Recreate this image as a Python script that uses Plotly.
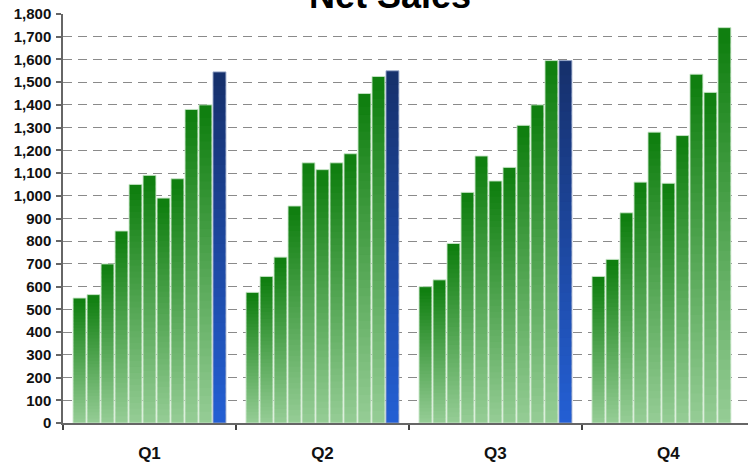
import plotly.graph_objects as go

categories = ["Q1", "Q2", "Q3", "Q4"]
# 11 series (bars per quarter); last series is highlighted in blue (no Q4 value)
series = [
    [550, 575, 600, 645],
    [565, 645, 630, 720],
    [700, 730, 790, 925],
    [845, 955, 1015, 1060],
    [1050, 1145, 1175, 1280],
    [1090, 1115, 1065, 1055],
    [990, 1145, 1125, 1265],
    [1075, 1185, 1310, 1535],
    [1380, 1450, 1400, 1455],
    [1400, 1525, 1595, 1740],
    [1545, 1550, 1595, None],
]
y_ticks = list(range(0, 1801, 100))

N = 40  # gradient slices per bar


def lerp(c1, c2, t):
    return "rgb(%d,%d,%d)" % tuple(round(a + (b - a) * t) for a, b in zip(c1, c2))


green_top, green_bot = (14, 126, 14), (152, 206, 152)
blue_top, blue_bot = (22, 48, 108), (36, 96, 214)

fig = go.Figure()
for j, vals in enumerate(series):
    top, bot = (blue_top, blue_bot) if j == len(series) - 1 else (green_top, green_bot)
    for k in range(N):
        t = (k + 0.5) / N  # 0 bottom -> 1 top
        bases = [None if v is None else max(0.0, v * (k - 0.6) / N) for v in vals]
        tops = [None if v is None else v * (k + 1) / N for v in vals]
        fig.add_trace(go.Bar(
            x=categories,
            y=[None if b is None else tp - b for b, tp in zip(bases, tops)],
            base=bases,
            offsetgroup=str(j),
            marker=dict(color=lerp(bot, top, t), line=dict(width=0)),
            showlegend=False, hoverinfo="skip",
        ))
    fig.add_trace(go.Bar(
        x=categories, y=vals, offsetgroup=str(j),
        marker=dict(color="rgba(0,0,0,0)",
                    line=dict(width=1, color="rgba(200,230,200,0.9)" if j < len(series) - 1 else "rgba(150,165,200,0.9)")),
        showlegend=False, hoverinfo="skip",
    ))

fig.update_layout(
    width=748, height=465,
    margin=dict(l=63, r=0, t=14, b=42),
    paper_bgcolor="white", plot_bgcolor="white",
    barmode="group", bargap=0.11, bargroupgap=0.08,
    font=dict(family="Liberation Sans, Arial", color="#111"),
    annotations=[dict(
        text="<b>Net Sales</b>", xref="paper", yref="paper",
        x=0.477, y=1.045, xanchor="center", yanchor="middle",
        showarrow=False, font=dict(size=36, color="#000"),
    )],
)
fig.update_yaxes(
    range=[0, 1800], tickvals=y_ticks,
    ticktext=["<b>%s</b>" % format(v, ",") for v in y_ticks],
    tickfont=dict(size=15, color="#111"),
    showgrid=True, gridcolor="#8a8a8a", gridwidth=1, griddash="9px,6px",
    showline=True, linecolor="#666", linewidth=1.5,
    ticks="outside", ticklen=5, tickcolor="#666", tickwidth=1.5,
    ticklabelstandoff=2, zeroline=False,
)
fig.update_xaxes(
    range=[-0.5, 3.46],
    tickvals=categories, ticktext=["<b>%s</b>" % c for c in categories],
    tickfont=dict(size=17, color="#111"),
    tickson="boundaries", ticks="outside", ticklen=5, tickcolor="#444", tickwidth=1.5,
    showline=True, linecolor="#666", linewidth=1.5, showgrid=False,
    ticklabelstandoff=14,
)
fig.write_html("out.html")
